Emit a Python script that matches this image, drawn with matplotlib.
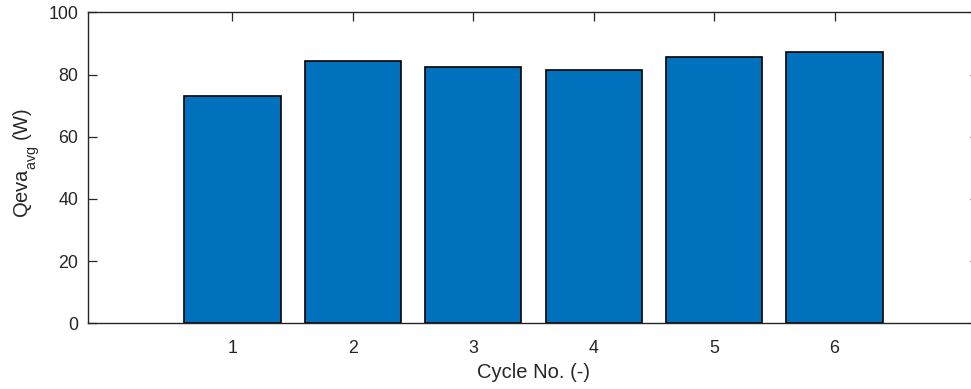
import matplotlib
matplotlib.use("Agg")
import matplotlib.pyplot as plt

try:
    import matplotlib._mathtext as _mt
    _mt.FontConstantsBase.sub1 = 0.75
    _mt.FontConstantsBase.sub2 = 0.9
except Exception:
    pass

cycles = [1, 2, 3, 4, 5, 6]
qeva_avg = [73.1, 84.4, 82.3, 81.4, 85.6, 87.2]
yticks = [0, 20, 40, 60, 80, 100]

plt.rcParams['font.family'] = ['Liberation Sans', 'DejaVu Sans']
plt.rcParams['mathtext.fontset'] = 'custom'
plt.rcParams['mathtext.rm'] = 'Liberation Sans'
plt.rcParams['mathtext.it'] = 'Liberation Sans'
plt.rcParams['mathtext.default'] = 'regular'

axc = '#262626'
fig = plt.figure(figsize=(9.71, 3.89), dpi=100)
ax = fig.add_axes([88/971, 65.7/389, 891/971, 311/389])
ax.bar(cycles, qeva_avg, width=0.8, color='#0072BD', edgecolor='black', linewidth=1.2, zorder=2)
ax.set_xlim(-0.2, 7.2)
ax.set_ylim(0, 100)
ax.set_xticks(cycles)
ax.set_yticks(yticks)
ax.tick_params(direction='in', length=6.8, width=0.9, colors=axc, labelsize=12.8,
               top=True, right=True)
ax.tick_params(axis='x', pad=12)
ax.tick_params(axis='y', pad=7)
for s in ax.spines.values():
    s.set_color(axc)
    s.set_linewidth(1.0)
    s.set_zorder(3)
ax.set_xlabel('Cycle No. (-)', fontsize=14.5, color=axc, labelpad=4)
ax.set_ylabel(r'Qeva$_{avg}$ (W)', fontsize=14.5, color=axc)
ax.yaxis.set_label_coords(-0.0516, 0.517)
fig.savefig('out.png', dpi=100)
